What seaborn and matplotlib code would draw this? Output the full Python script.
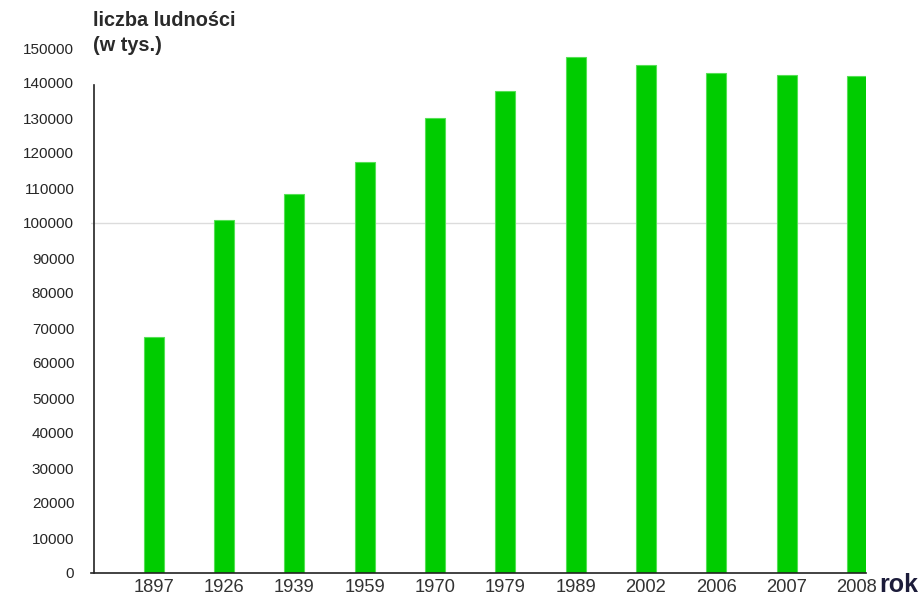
import matplotlib
matplotlib.use("Agg")
import matplotlib.pyplot as plt
import seaborn as sns
import pandas as pd

years = ["1897", "1926", "1939", "1959", "1970", "1979", "1989", "2002", "2006", "2007", "2008"]
population = [67500, 100900, 108400, 117500, 130100, 137600, 147400, 145200, 142800, 142200, 142000]
y_ticks = list(range(0, 150001, 10000))

sns.set_theme(style="white")
plt.rcParams['font.family'] = ['Liberation Sans', 'DejaVu Sans']

df = pd.DataFrame({"rok": years, "ludnosc": population})

fig = plt.figure(figsize=(9.24, 5.98), dpi=100)
W, H = 924, 598
ax = fig.add_axes([91 / W, (598 - 573) / H, (866 - 91) / W, 525 / H])

sns.barplot(data=df, x="rok", y="ludnosc", color="#00cc00", width=0.285,
            edgecolor="#55e055", linewidth=0.8, saturation=1, ax=ax, zorder=2)

ax.set_xlim(-0.89, 10.13)
ax.set_ylim(0, 150000)
ax.axhline(100000, color="#dcdcdc", lw=1, zorder=0)

ax.set_yticks(y_ticks)
ax.set_yticklabels([str(v) for v in y_ticks], fontsize=13.2, color="#333333")
ax.tick_params(axis="y", length=0, pad=14)
ax.tick_params(axis="x", length=0, pad=4.5, labelsize=13.2, labelcolor="#333333")
ax.set_yticks([100000], minor=True)
ax.tick_params(axis="y", which="minor", length=3, width=1, color="#222222", left=True)

ax.set_xlabel("")
ax.set_ylabel("")
for s in ["top", "right"]:
    ax.spines[s].set_visible(False)
for s in ["left", "bottom"]:
    ax.spines[s].set_color("#222222")
    ax.spines[s].set_linewidth(1.2)
ax.spines["left"].set_bounds(0, 139400)
ax.spines["left"].set_position(("data", -0.85))

fig.text(93 / W, 1 - 11 / H, "liczba ludności\n(w tys.)", ha="left", va="top",
         fontsize=14.3, fontweight="bold", color="#2a2a2a", linespacing=1.38)
fig.text(879 / W, 1 - 585 / H, "rok", ha="left", va="center",
         fontsize=18, fontweight="bold", color="#1c1c3a")

fig.savefig("out.png", dpi=100)
